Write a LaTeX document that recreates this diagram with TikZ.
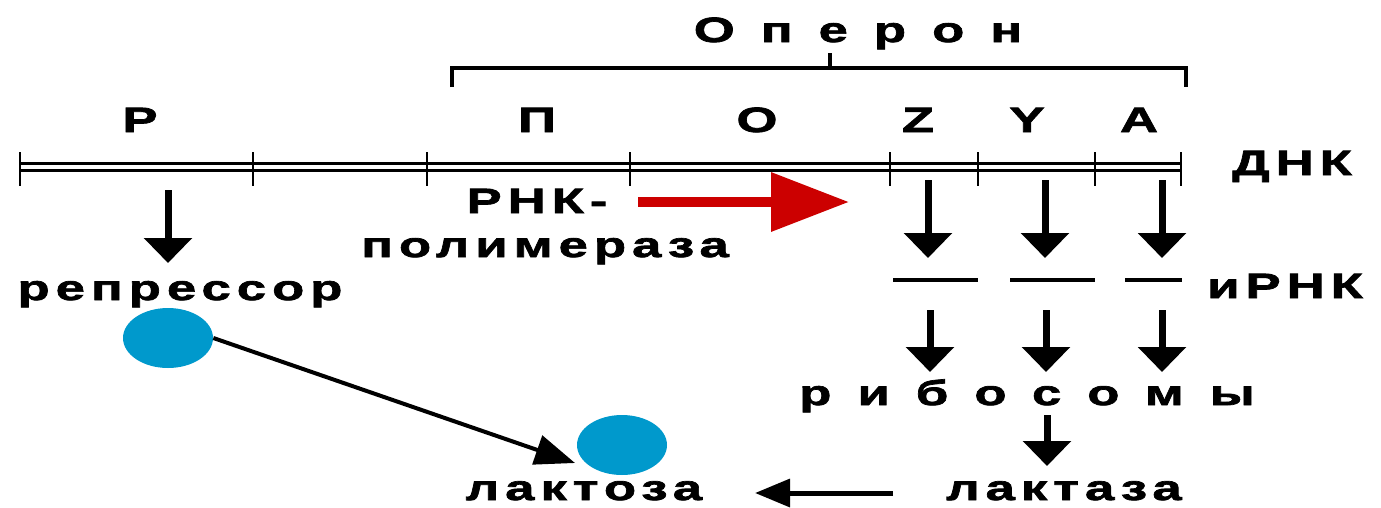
\documentclass[tikz,border=0pt]{standalone}
\usepackage{fontspec}
\setmainfont{Liberation Sans}[FakeStretch=1.5,LetterSpace=17,FakeBold=2]
\newfontfamily\widefont{Liberation Sans}[FakeStretch=1.5,LetterSpace=74,FakeBold=2]
\usetikzlibrary{arrows.meta,positioning,shapes.geometric}
\definecolor{molblue}{RGB}{0,153,204}
\definecolor{polred}{RGB}{204,0,0}
\tikzset{
  every node/.append style={font=\fontsize{20}{22}\selectfont\bfseries, inner sep=0pt, anchor=base},
}

\begin{document}
\begin{tikzpicture}[
  x=0.02cm, y=-0.02cm,
  bigarrow/.style={-{Triangle[length=5mm,width=9.4mm]}, line width=1.4mm},
  redarrow/.style={-{Triangle[length=15.6mm,width=11.4mm]}, line width=2mm, draw=polred},
  thinarrow/.style={-{Triangle[length=8mm,width=6mm]}, line width=0.8mm},
  backarrow/.style={-{Triangle[length=7mm,width=5.5mm]}, line width=1mm},
  dna/.style={double, double distance=0.9mm, line width=0.5mm},
  tick/.style={line width=0.5mm},
  bar/.style={line width=0.8mm},
  mol/.style={ellipse, fill=molblue, minimum width=1.8cm, minimum height=1.2cm, anchor=center},
  spaced/.style={font=\fontsize{20}{22}\selectfont\widefont\bfseries}
]
\useasboundingbox (0,0) rectangle (1381,507);

% operon bracket
\node[spaced] (operon) at (858,42) {Оперон};
\coordinate (bl) at (452,68);
\coordinate (br) at (1186,68);
\coordinate (bc) at (830,68);
\draw[bar] (452,87) -- (bl) -- (br) -- (1186,87);
\draw[bar] (bc) -- (830,53);

% gene letters
\node (gR) at (140,132) {Р};
\node (gP) at (537,132) {П};
\node (gO) at (757,132) {О};
\node (gZ) at (918,132) {Z};
\node (gY) at (1027,132) {Y};
\node (gA) at (1139,132) {A};

% DNA
\draw[dna] (20,167) coordinate (dL) -- (1181,167) coordinate (dR);
\foreach \x in {20,253,427,630,890,978,1095,1181}
  \draw[tick] (\x,152) -- (\x,186);
\node (dnk) at (1292,175) {ДНК};

% repressor
\coordinate (rtop) at (168,190);
\coordinate (rtip) at (168,263);
\draw[bigarrow] (rtop) -- (rtip);
\node (repr) at (180,300) {репрессор};
\node[mol] (rep) at (168,338) {};
\node[mol] (lac) at (622,445) {};
\coordinate (lacin) at (575,463);
\draw[thinarrow] (rep.east) -- (lacin);

% polymerase
\node (rnk) at (537,213) {РНК-};
\node (polim) at (545,257) {полимераза};
\coordinate (rs) at (638,202);
\coordinate (re) at (849,202);
\draw[redarrow] (rs) -- (re);

% transcription and translation
\foreach \x/\n in {928/z,1045/y,1162/a}{
  \coordinate (t\n) at (\x,180);
  \coordinate (h\n) at (\x,258);
  \draw[bigarrow] (t\n) -- (h\n);
}
\draw[bar] (893,280) -- (978,280);
\draw[bar] (1010,280) -- (1095,280);
\draw[bar] (1125,280) -- (1182,280);
\node (irnk) at (1285,298) {иРНК};
\foreach \x/\n in {930/z,1046/y,1162/a}{
  \coordinate (m\n) at (\x,310);
  \coordinate (r\n) at (\x,372);
  \draw[bigarrow] (m\n) -- (r\n);
}
\node[spaced] (ribo) at (1027,405) {рибосомы};
\coordinate (ribout) at (1047,415);
\coordinate (lasein) at (1047,466);
\draw[bigarrow] (ribout) -- (lasein);
\node (lactase) at (1064,500) {лактаза};
\node (lactose) at (584,500) {лактоза};
\coordinate (bs) at (893,493);
\coordinate (be) at (755,493);
\draw[backarrow] (bs) -- (be);
\end{tikzpicture}
\end{document}
